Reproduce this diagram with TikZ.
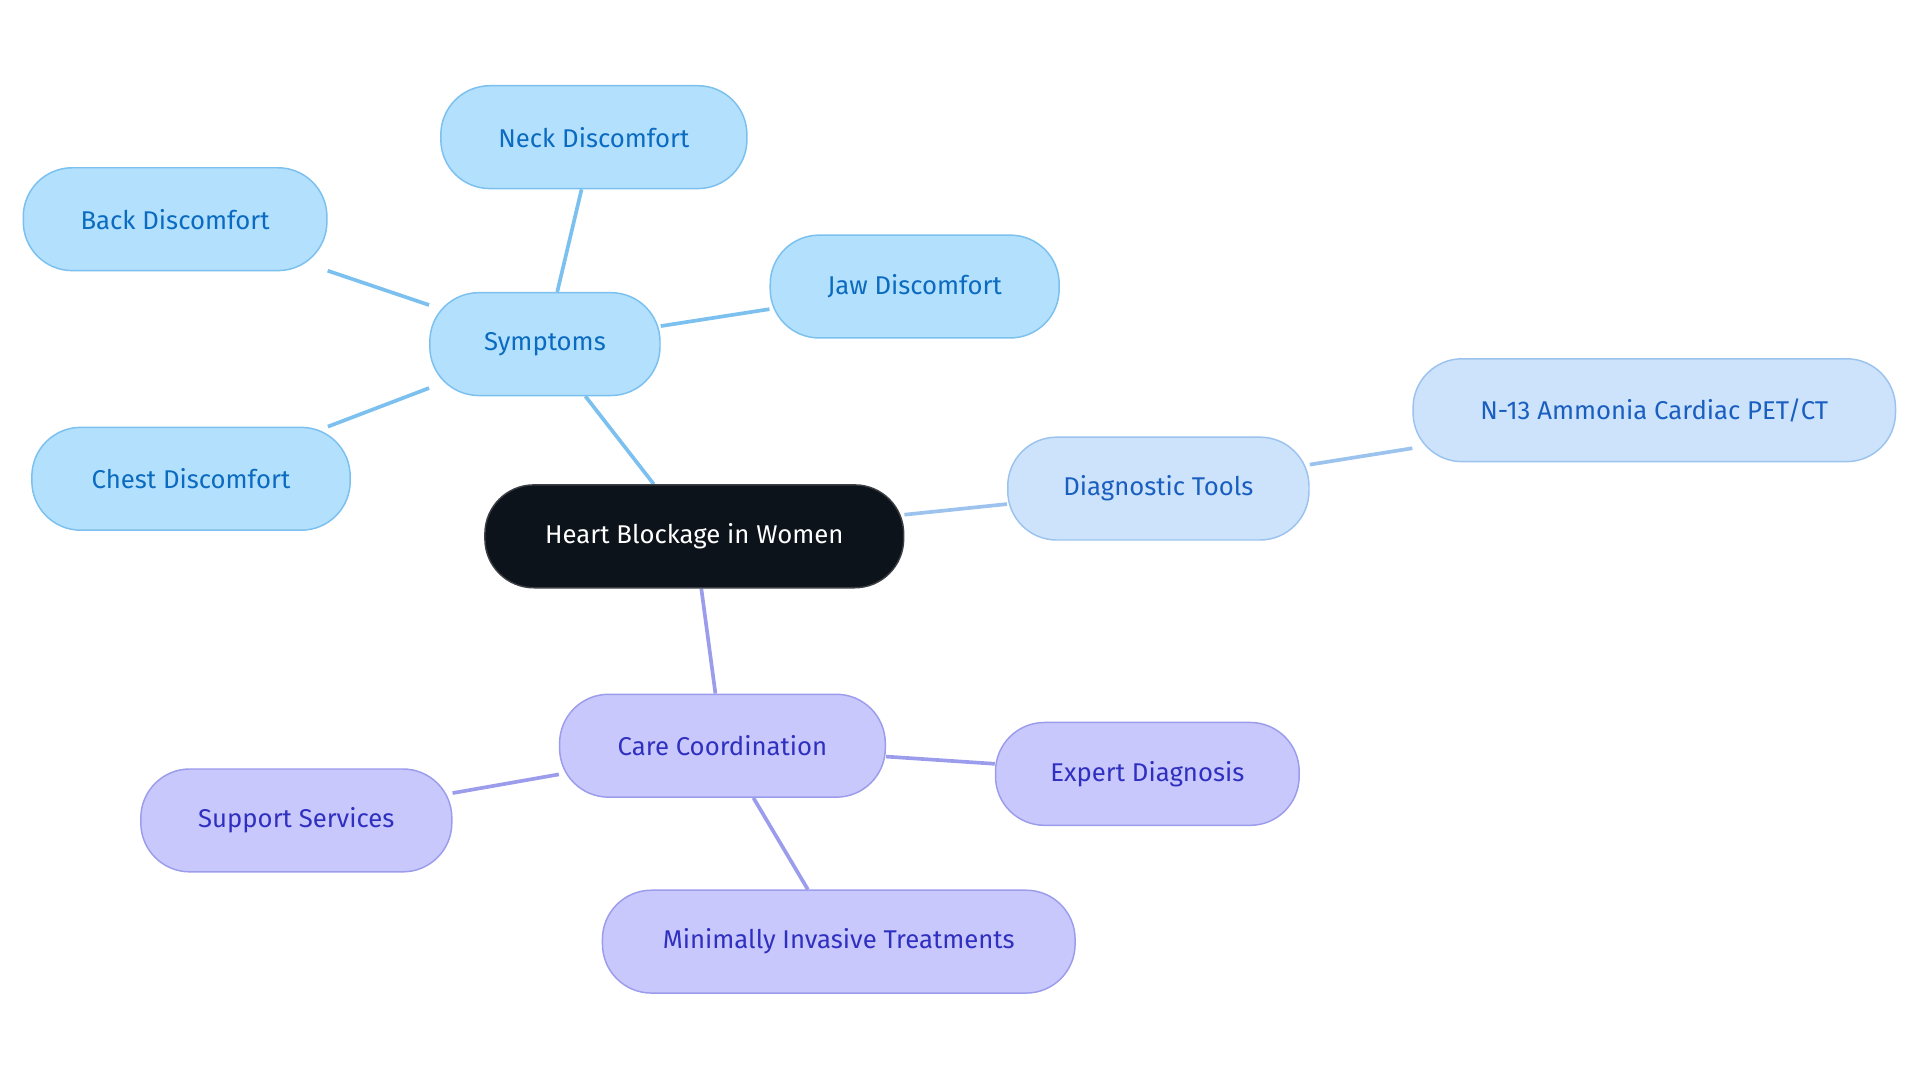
\documentclass[tikz,border=0pt]{standalone}
\usepackage{fontspec}
\setmainfont{Fira Sans}
\usetikzlibrary{backgrounds}
\definecolor{rootfill}{HTML}{0D131A}
\definecolor{symfill}{HTML}{B3E0FD}
\definecolor{symline}{HTML}{7BC0EE}
\definecolor{symtext}{HTML}{0B6BC0}
\definecolor{diafill}{HTML}{CCE3FB}
\definecolor{dialine}{HTML}{9BC3EE}
\definecolor{diatext}{HTML}{1A5FC0}
\definecolor{carfill}{HTML}{C8C8FC}
\definecolor{carline}{HTML}{9C9CEC}
\definecolor{cartext}{HTML}{3030C0}
\begin{document}
\begin{tikzpicture}[x=1pt, y=-1pt,
    box/.style = {rectangle, rounded corners=40pt, minimum height=84pt, line width=1.2pt,
        font=\fontsize{21}{25}\selectfont},
    root/.style = {box, fill=rootfill, draw=rootfill!60!gray, text=white},
    sym/.style = {box, fill=symfill, draw=symline, text=symtext},
    dia/.style = {box, fill=diafill, draw=dialine, text=diatext},
    car/.style = {box, fill=carfill, draw=carline, text=cartext},
    link/.style = {line width=3pt}]
        \useasboundingbox (0,0) rectangle (1568,884);

        \node [root, minimum width=342pt] (heart) at (567,438) {Heart Blockage in Women};

        \node [sym, minimum width=188pt] (symptoms) at (445,281) {Symptoms};
        \node [sym, minimum width=250pt] (neck) at (485,112) {Neck Discomfort};
        \node [sym, minimum width=248pt] (back) at (143,179) {Back Discomfort};
        \node [sym, minimum width=236pt] (jaw) at (747,234) {Jaw Discomfort};
        \node [sym, minimum width=260pt] (chest) at (156,391) {Chest Discomfort};

        \node [dia, minimum width=246pt] (tools) at (946,399) {Diagnostic Tools};
        \node [dia, minimum width=394pt] (pet) at (1351,335) {N-13 Ammonia Cardiac PET/CT};

        \node [car, minimum width=266pt] (care) at (590,609) {Care Coordination};
        \node [car, minimum width=248pt] (expert) at (937,632) {Expert Diagnosis};
        \node [car, minimum width=254pt] (support) at (242,670) {Support Services};
        \node [car, minimum width=386pt] (invasive) at (685,769) {Minimally Invasive Treatments};

        % links go behind the boxes
        \begin{scope}[on background layer]
        \foreach \a/\b/\c in {heart/symptoms/symline, symptoms/neck/symline, symptoms/back/symline,
            symptoms/jaw/symline, symptoms/chest/symline, heart/tools/dialine, tools/pet/dialine,
            heart/care/carline, care/expert/carline, care/support/carline, care/invasive/carline}
            \draw [link, \c] (\a) -- (\b);
        \end{scope}
\end{tikzpicture}
\end{document}
